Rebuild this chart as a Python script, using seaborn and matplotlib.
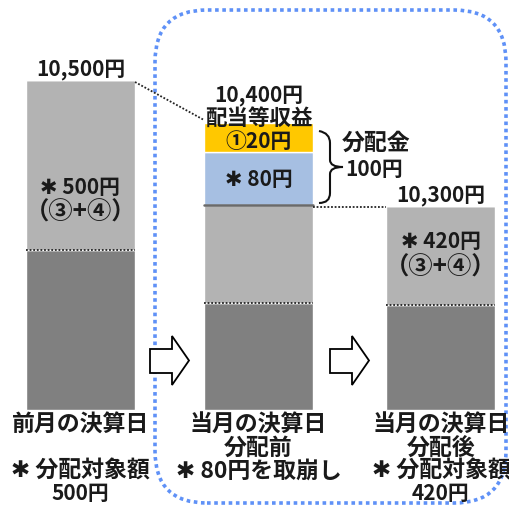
import numpy as np
import seaborn as sns
import matplotlib.pyplot as plt
from matplotlib.patches import FancyBboxPatch, Polygon, PathPatch
from matplotlib.path import Path

sns.set_style('white')
plt.rcParams['font.family'] = ['Noto Sans CJK JP', 'DejaVu Sans']

# schematic bar layout (not to scale in the original either)
bar_x = [80.5, 258.5, 441]
bar_w = 109
base = 95
seg_dark = [160, 107, 105]
seg_light = [170, 98, 99]
seg_blue = [0, 53, 0]
seg_yellow = [0, 29, 0]

top_labels = ['10,500円', '10,400円', '10,300円']
bottom_labels = [['前月の決算日', '', '✱ 分配対象額', '500円'],
                 ['当月の決算日', '分配前', '✱ 80円を取崩し'],
                 ['当月の決算日', '分配後', '✱ 分配対象額', '420円']]

c_dark = '#808080'
c_light = '#b3b3b3'
c_blue = '#a6bfe2'
c_yellow = '#ffc800'

fig = plt.figure(figsize=(5.1, 5.05), dpi=100)
ax = fig.add_axes([0, 0, 1, 1])
ax.set_xlim(0, 510)
ax.set_ylim(0, 505)
ax.axis('off')

dark = np.array(seg_dark)
light = np.array(seg_light)
blue = np.array(seg_blue)
yellow = np.array(seg_yellow)

ax.bar(bar_x, dark, bar_w, bottom=base, color=c_dark, zorder=2)
ax.bar(bar_x, light, bar_w, bottom=base + dark, color=c_light, zorder=2)
ax.bar(bar_x, blue, bar_w, bottom=base + dark + light, color=c_blue, zorder=2)
ax.bar(bar_x, yellow, bar_w, bottom=base + dark + light + blue, color=c_yellow, zorder=2)
tops = base + dark + light + blue + yellow

# dotted line between the two gray parts
for x, d in zip(bar_x, dark):
    ax.plot([x - bar_w / 2, x + bar_w / 2], [base + d, base + d], color='#222222',
            lw=1.3, ls=(0, (1, 1)), zorder=3)
# solid line under the blue part
y_gl = base + dark[1] + light[1]
ax.plot([bar_x[1] - bar_w / 2, bar_x[1] + bar_w / 2], [y_gl, y_gl], color='#6a6a6a', lw=1.8, zorder=3)

# connectors
ax.plot([bar_x[0] + bar_w / 2, bar_x[1] - bar_w / 2], [tops[0] - 2, tops[1] + 3],
        color='#222222', lw=1.3, ls=(0, (1, 1)), zorder=3)
ax.plot([bar_x[1] + bar_w / 2, bar_x[2] - bar_w / 2], [y_gl - 2, y_gl - 2],
        color='#222222', lw=1.3, ls=(0, (1, 1)), zorder=3)

# blue dotted rounded frame
frame = FancyBboxPatch((155, 2), 351, 493, boxstyle='round,pad=0,rounding_size=52',
                       fill=False, ec='#5f91f7', lw=2.6, ls=(0, (1, 1)), zorder=1)
ax.add_patch(frame)

# block arrows
for x0 in [150, 330]:
    pts = [(x0, 156), (x0 + 22, 156), (x0 + 22, 169), (x0 + 39, 144.5),
           (x0 + 22, 120), (x0 + 22, 132), (x0, 132)]
    ax.add_patch(Polygon(pts, closed=True, fc='white', ec='black', lw=1.3, zorder=4))

# brace
verts = [(319, 374), (330, 372), (330, 362), (330, 352), (330, 345), (330, 338), (343, 338),
         (330, 338), (330, 331), (330, 321), (330, 312), (330, 302), (319, 302)]
codes = [Path.MOVETO, Path.CURVE3, Path.CURVE3, Path.LINETO, Path.LINETO, Path.CURVE3, Path.CURVE3,
         Path.CURVE3, Path.CURVE3, Path.LINETO, Path.LINETO, Path.CURVE3, Path.CURVE3]
ax.add_patch(PathPatch(Path(verts, codes), fill=False, ec='#111111', lw=1.5, zorder=4))

txt = dict(ha='center', va='center', fontsize=15, fontweight='bold', color='#1a1a1a', zorder=5)
cjk = dict(txt, fontsize=16.5)

for x, t, lab in zip(bar_x, tops, top_labels):
    off = 28 if x == bar_x[1] else 11
    ax.text(x, t + off, lab, **txt)
ax.text(bar_x[1], tops[1] + 5, '配当等収益', **dict(cjk, fontsize=15.5))
ax.text(bar_x[1], tops[1] - 18, '①20円', **txt)
ax.text(bar_x[1], y_gl + 25, '✱ 80円', **txt)
ax.text(bar_x[0], 318, '✱ 500円', **txt)
ax.text(bar_x[0], 292, '（③+④）', **dict(cjk, fontsize=17.5))
ax.text(bar_x[2], 263, '✱ 420円', **txt)
ax.text(bar_x[2], 237, '（③+④）', **dict(cjk, fontsize=17.5))
ax.text(376, 362, '分配金', **cjk)
ax.text(374, 335, '100円', **txt)

row_y = [80, 57, 34, 12]
for x, labs in zip(bar_x, bottom_labels):
    ys = row_y if len(labs) == 4 else row_y[:3]
    for y, lab in zip(ys, labs):
        ax.text(x, y, lab, **(txt if lab.endswith('0円') else cjk))

fig.savefig('out.png', dpi=100)
